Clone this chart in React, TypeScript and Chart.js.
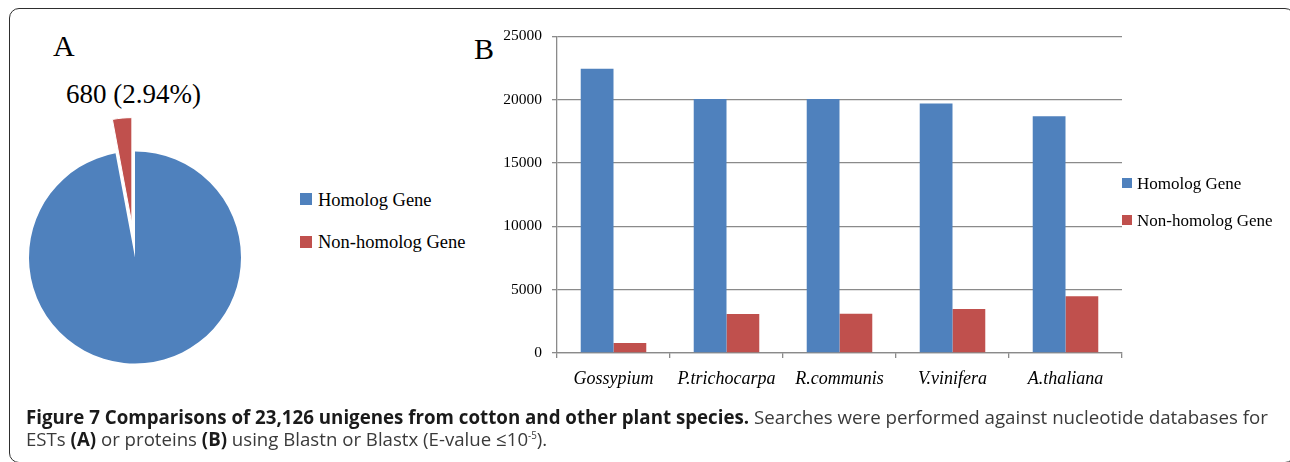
import React, { useEffect, useLayoutEffect, useRef } from "react";
import { Chart, registerables } from "chart.js";

Chart.register(...registerables);

// ---------- data ----------
const pieLabels = ["Homolog Gene", "Non-homolog Gene"];
const pieValues = [22446, 680];
const pieColors = ["#4F81BD", "#C0504D"];
const pieExplode = [0, 34];
const pieCallout = "680 (2.94%)";

const species = ["Gossypium", "P.trichocarpa", "R.communis", "V.vinifera", "A.thaliana"];
const seriesNames = ["Homolog Gene", "Non-homolog Gene"];
const homolog = [22446, 20060, 20060, 19700, 18680];
const nonHomolog = [790, 3080, 3090, 3480, 4480];
const yTicks = [0, 5000, 10000, 15000, 20000, 25000];

const SERIF = "'Liberation Serif', 'Times New Roman', serif";
const GRID = "#8a8a8a";

const explodePlugin = {
  id: "explodeSlices",
  afterDatasetUpdate(chart: any, args: any) {
    const meta = chart.getDatasetMeta(args.index);
    meta.data.forEach((arc: any, i: number) => {
      const d = pieExplode[i];
      if (!d) return;
      const mid = (arc.startAngle + arc.endAngle) / 2;
      arc.x += Math.cos(mid) * d;
      arc.y += Math.sin(mid) * d;
    });
  },
};

function PieChart() {
  const ref = useRef<HTMLCanvasElement>(null);
  useEffect(() => {
    const chart = new Chart(ref.current!, {
      type: "pie",
      data: {
        labels: pieLabels,
        datasets: [
          {
            data: pieValues,
            backgroundColor: pieColors,
            borderColor: "#ffffff",
            borderWidth: [0, 1],
            radius: 106,
          } as any,
        ],
      },
      options: {
        animation: false,
        responsive: false,
        radius: 106,
        layout: { padding: { left: 0, right: 20, top: 15, bottom: 0 } },
        plugins: { legend: { display: false }, tooltip: { enabled: false } },
      } as any,
      plugins: [explodePlugin],
    });
    return () => chart.destroy();
  }, []);
  return (
    <canvas
      ref={ref}
      width={290}
      height={300}
      style={{ position: "absolute", left: 0, top: 100, width: 290, height: 300 }}
    />
  );
}

function BarChart() {
  const ref = useRef<HTMLCanvasElement>(null);
  useEffect(() => {
    const chart = new Chart(ref.current!, {
      type: "bar",
      data: {
        labels: species,
        datasets: [
          {
            label: seriesNames[0],
            data: homolog,
            backgroundColor: pieColors[0],
            categoryPercentage: 0.58,
            barPercentage: 1.0,
          },
          {
            label: seriesNames[1],
            data: nonHomolog,
            backgroundColor: pieColors[1],
            categoryPercentage: 0.58,
            barPercentage: 1.0,
          },
        ],
      },
      options: {
        animation: false,
        responsive: false,
        layout: { padding: { left: 0, right: 8, top: 12, bottom: 0 } },
        plugins: { legend: { display: false }, tooltip: { enabled: false } },
        scales: {
          x: {
            grid: {
              display: true,
              drawOnChartArea: false,
              drawTicks: true,
              tickLength: 5,
              color: GRID,
              lineWidth: 1.3,
              offset: true,
            },
            border: { color: GRID, width: 1.3 },
            ticks: {
              font: { family: SERIF, size: 18, style: "italic" },
              color: "#000",
              padding: 10,
              maxRotation: 0,
              autoSkip: false,
            },
            afterFit: (s: any) => {
              s.height = 57;
            },
          },
          y: {
            min: 0,
            max: 25000,
            afterBuildTicks: (s: any) => {
              s.ticks = yTicks.map((v) => ({ value: v }));
            },
            ticks: {
              font: { family: SERIF, size: 15.5 },
              color: "#000",
              padding: 10,
              callback: (v: any) => String(v),
            },
            grid: { color: GRID, lineWidth: 1.3, tickLength: 5 },
            border: { color: GRID, width: 1.3 },
            afterFit: (s: any) => {
              s.width = 87;
            },
          },
        },
      } as any,
    });
    return () => chart.destroy();
  }, []);
  return (
    <canvas
      ref={ref}
      width={660}
      height={393}
      style={{ position: "absolute", left: 470, top: 17, width: 660, height: 393 }}
    />
  );
}

function FitLine({
  top,
  target,
  children,
}: {
  top: number;
  target: number;
  children: React.ReactNode;
}) {
  const ref = useRef<HTMLDivElement>(null);
  useLayoutEffect(() => {
    const el = ref.current!;
    el.style.transform = "none";
    const w = el.scrollWidth;
    if (w > 0) el.style.transform = `scaleX(${target / w})`;
  }, []);
  return (
    <div
      ref={ref}
      style={{
        position: "absolute",
        left: 26,
        top,
        whiteSpace: "nowrap",
        display: "inline-block",
        transformOrigin: "0 0",
        fontFamily: "'Open Sans', sans-serif",
        fontSize: 19,
        lineHeight: "21px",
        color: "#3a3a3a",
      }}
    >
      {children}
    </div>
  );
}

function Legend({
  left,
  tops,
  box,
  boxTops,
  textLeft,
  fontSize,
}: {
  left: number;
  tops: number[];
  box: number;
  boxTops: number[];
  textLeft: number;
  fontSize: number;
}) {
  return (
    <>
      {seriesNames.map((name, i) => (
        <React.Fragment key={name}>
          <div
            style={{
              position: "absolute",
              left,
              top: boxTops[i],
              width: box,
              height: box,
              background: pieColors[i],
            }}
          />
          <div
            style={{
              position: "absolute",
              left: textLeft,
              top: tops[i],
              fontFamily: SERIF,
              fontSize,
              lineHeight: `${fontSize}px`,
              color: "#000",
              whiteSpace: "nowrap",
            }}
          >
            {pieLabels[i]}
          </div>
        </React.Fragment>
      ))}
    </>
  );
}

export default function App() {
  const b: React.CSSProperties = { fontWeight: 700, color: "#1a1a1a" };
  return (
    <div
      style={{
        position: "fixed",
        left: 0,
        top: 0,
        width: 1290,
        height: 462,
        overflow: "hidden",
        background: "#fff",
      }}
    >
      <div
        style={{
          position: "absolute",
          left: 9,
          top: 8,
          width: 1286,
          height: 455,
          boxSizing: "border-box",
          border: "1.6px solid #2e2e2e",
          borderRadius: 10,
        }}
      />
      <div
        style={{
          position: "absolute",
          left: 53,
          top: 31,
          fontFamily: SERIF,
          fontSize: 30,
          lineHeight: "30px",
          color: "#000",
        }}
      >
        A
      </div>
      <div
        style={{
          position: "absolute",
          left: 474,
          top: 34,
          fontFamily: SERIF,
          fontSize: 30,
          lineHeight: "30px",
          color: "#000",
        }}
      >
        B
      </div>
      <div
        style={{
          position: "absolute",
          left: 66,
          top: 81,
          fontFamily: SERIF,
          fontSize: 27,
          lineHeight: "27px",
          color: "#000",
          whiteSpace: "nowrap",
        }}
      >
        {pieCallout}
      </div>
      <PieChart />
      <Legend left={300} boxTops={[193, 236]} box={12} textLeft={318} tops={[190.5, 232.8]} fontSize={18.5} />
      <BarChart />
      <Legend left={1122} boxTops={[178, 215]} box={10} textLeft={1137} tops={[175, 212]} fontSize={17} />
      <FitLine top={407} target={1242}>
        <span style={b}>Figure 7 Comparisons of 23,126 unigenes from cotton and other plant species.</span>{" "}
        Searches were performed against nucleotide databases for
      </FitLine>
      <FitLine top={429} target={521}>
        ESTs <span style={b}>(A)</span> or proteins <span style={b}>(B)</span> using Blastn or Blastx (E-value ≤10
        <sup style={{ fontSize: 10, lineHeight: 0, verticalAlign: "7px" }}>-5</sup>).
      </FitLine>
    </div>
  );
}
